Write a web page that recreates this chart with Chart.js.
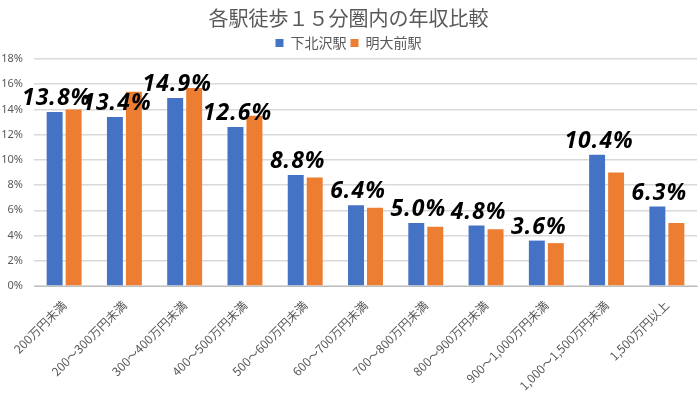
<!DOCTYPE html>
<html>
<head>
<meta charset="utf-8">
<script src="https://cdn.jsdelivr.net/npm/chart.js@4"></script>
<style>
  html,body{margin:0;padding:0;background:#fff;}
  #wrap{width:700px;height:394px;}
</style>
</head>
<body>
<div id="wrap"><canvas id="incomeChart" width="700" height="394"></canvas></div>
<script>
const categories=["200万円未満","200～300万円未満","300～400万円未満","400～500万円未満","500～600万円未満","600～700万円未満","700～800万円未満","800～900万円未満","900～1,000万円未満","1,000～1,500万円未満","1,500万円以上"];
const shimokitazawa=[13.8,13.4,14.9,12.6,8.8,6.4,5.0,4.8,3.6,10.4,6.3];
const meidaimae=[14.0,15.4,15.7,13.5,8.6,6.2,4.7,4.5,3.4,9.0,5.0];
const seriesNames=["下北沢駅","明大前駅"];
const yTicks=[0,2,4,6,8,10,12,14,16,18];

const gray="#595959";
const jpFont="'Noto Sans CJK JP','Noto Sans',sans-serif";

// labels on top of the blue bars
const valueLabels={
    id:"valueLabels",
    afterDatasetsDraw(chart){
        let ctx=chart.ctx;
        let meta=chart.getDatasetMeta(0);
        ctx.save();
        ctx.font="italic bold 23px 'Noto Sans',sans-serif";
        ctx.letterSpacing="1px";
        ctx.fillStyle="#000";
        ctx.textAlign="center";
        ctx.textBaseline="bottom";
        meta.data.forEach((bar,i)=>{
            ctx.fillText(shimokitazawa[i].toFixed(1)+"%",bar.x+2,bar.y-2);
        });
        ctx.restore();
    }
};

const legendHeight={
    id:"legendHeight",
    beforeInit(chart){
        const fit=chart.legend.fit;
        chart.legend.fit=function(){
            fit.call(this);
            this.height=27;
        };
    }
};

new Chart(document.getElementById("incomeChart"),{
    type:"bar",
    data:{
        labels:categories,
        datasets:[
            {label:seriesNames[0],data:shimokitazawa,backgroundColor:"#4472C4"},
            {label:seriesNames[1],data:meidaimae,backgroundColor:"#ED7D31"}
        ]
    },
    options:{
        responsive:false,
        animation:false,
        layout:{padding:{left:0,right:3,top:0,bottom:0}},
        datasets:{bar:{categoryPercentage:0.63,barPercentage:0.84}},
        plugins:{
            title:{
                display:true,
                text:"各駅徒歩１５分圏内の年収比較",
                color:gray,
                font:{family:jpFont,size:20,weight:"normal"},
                padding:{top:6,bottom:2}
            },
            legend:{
                display:true,
                labels:{
                    color:gray,
                    font:{family:jpFont,size:14},
                    boxWidth:8,
                    boxHeight:8,
                    padding:4
                }
            },
            tooltip:{enabled:false}
        },
        scales:{
            x:{
                grid:{display:false},
                border:{color:"#bfbfbf",width:1},
                ticks:{color:gray,font:{family:jpFont,size:12},maxRotation:45,minRotation:45,autoSkip:false,padding:4},
                afterFit(scale){scale.height=108;}
            },
            y:{
                min:0,
                max:18,
                border:{display:false},
                grid:{color:"#d9d9d9",lineWidth:1.5,drawTicks:false},
                afterBuildTicks(scale){scale.ticks=yTicks.map(v=>({value:v}));},
                ticks:{color:gray,font:{family:"'Noto Sans',sans-serif",size:11},padding:11,callback:v=>v+"%"},
                afterFit(scale){scale.width=34;}
            }
        }
    },
    plugins:[valueLabels,legendHeight]
});
</script>
</body>
</html>
